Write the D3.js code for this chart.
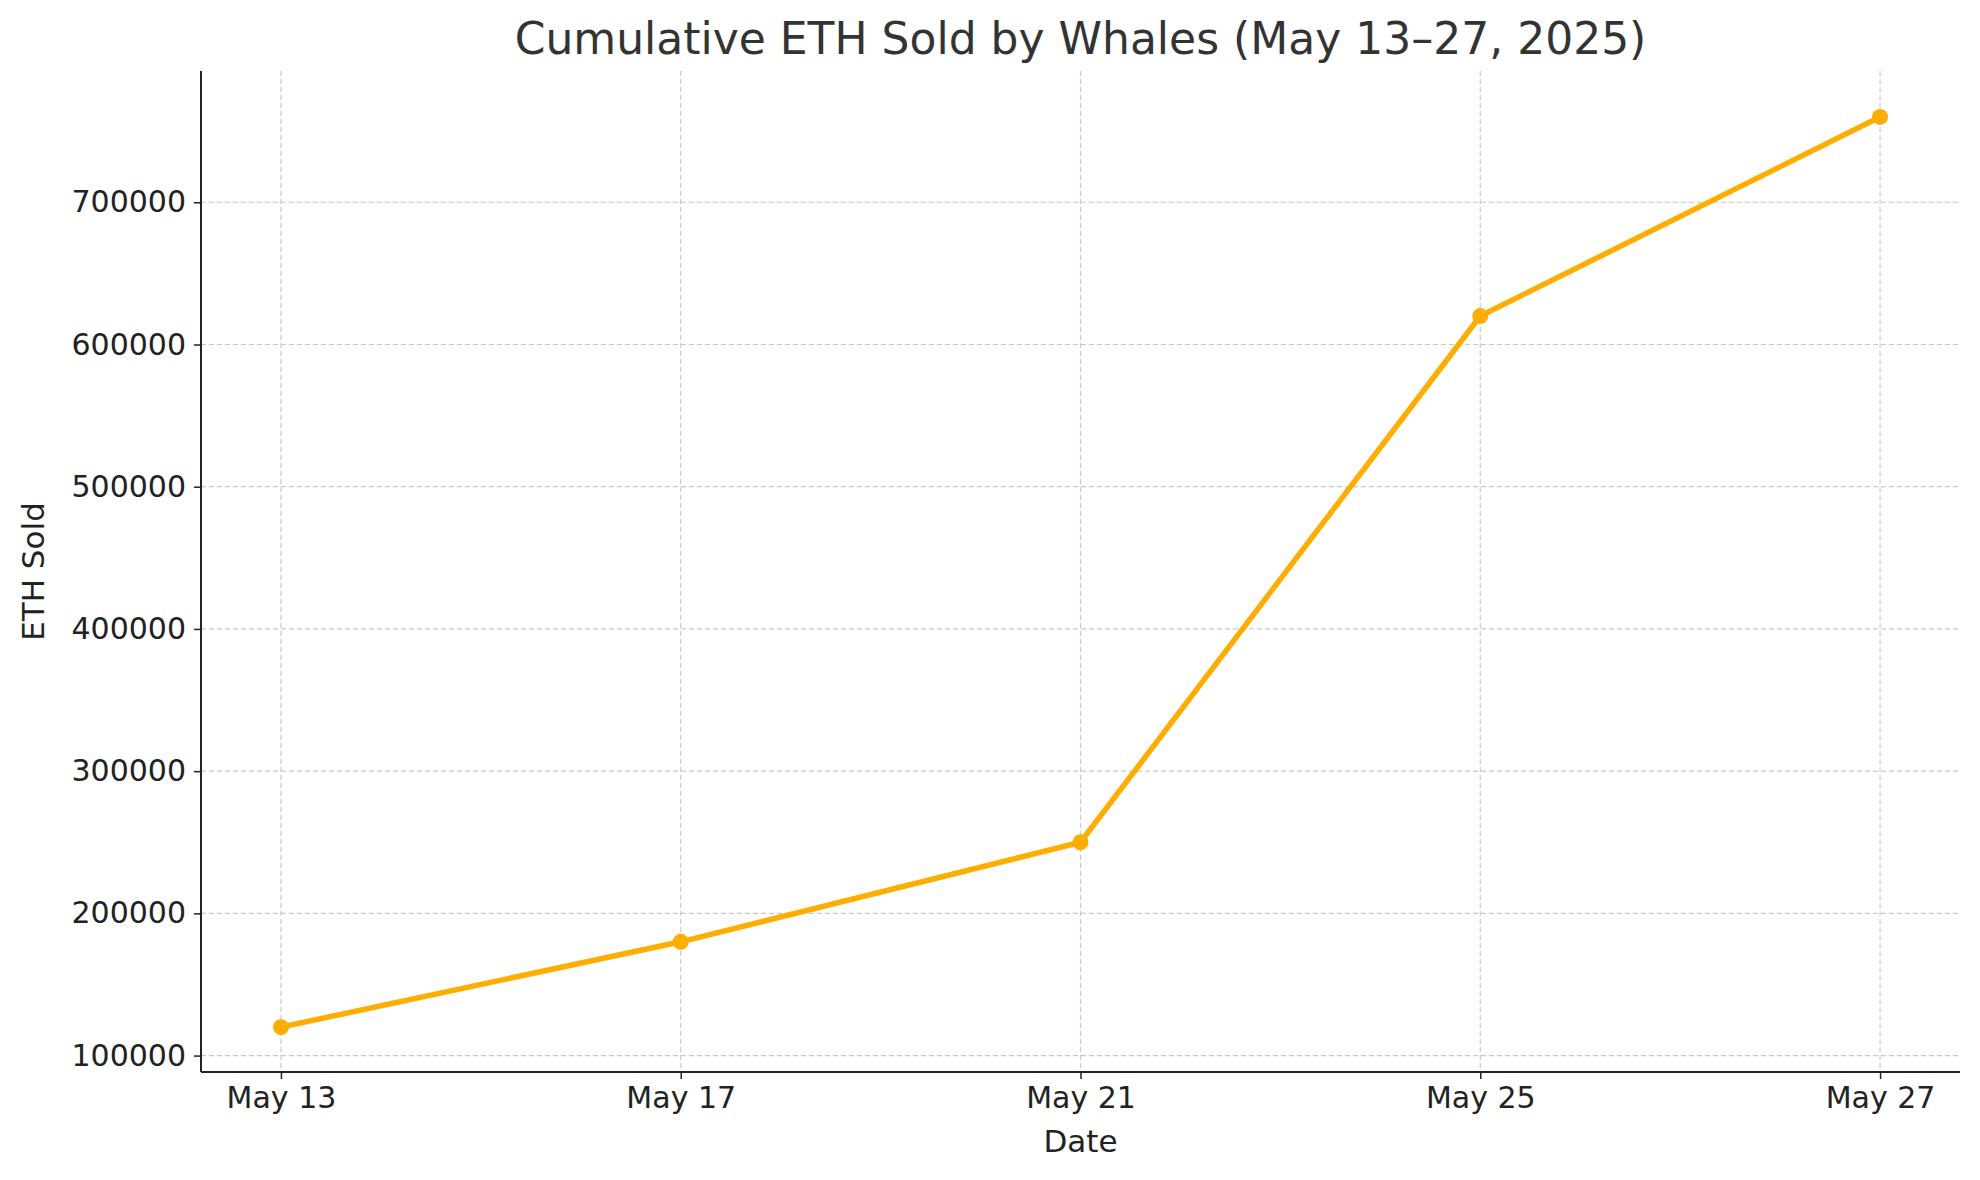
<!DOCTYPE html>
<html><head><meta charset="utf-8">
<script src="https://cdn.jsdelivr.net/npm/d3@7"></script>
<style>body{margin:0;background:#fff}text{font-family:"DejaVu Sans",sans-serif}</style>
</head><body>
<script>
var dates = ["May 13", "May 17", "May 21", "May 25", "May 27"];
var ethSold = [120000, 180000, 250000, 620000, 760000];
var yTicks = [100000, 200000, 300000, 400000, 500000, 600000, 700000];

var width = 1980, height = 1180;
var m = {left: 201, right: 20, top: 71, bottom: 108};

var svg = d3.select("body").append("svg").attr("width", width).attr("height", height);

var x = d3.scalePoint().domain(dates).range([m.left, width - m.right]).padding(0.2);
var y = d3.scaleLinear().domain([88460, 792300]).range([height - m.bottom, m.top]);

// grid
svg.append("g").selectAll("line").data(yTicks).enter().append("line")
    .attr("x1", m.left).attr("x2", width - m.right)
    .attr("y1", function(d){return y(d)}).attr("y2", function(d){return y(d)})
    .style("stroke", "#c8c8c8").style("stroke-dasharray", "5,3").style("stroke-width", 1.2);
svg.append("g").selectAll("line").data(dates).enter().append("line")
    .attr("y1", m.top).attr("y2", height - m.bottom)
    .attr("x1", function(d){return x(d)}).attr("x2", function(d){return x(d)})
    .style("stroke", "#c8c8c8").style("stroke-dasharray", "5,3").style("stroke-width", 1.2);

// axes
var xAxis = svg.append("g").attr("transform", "translate(0," + (height - m.bottom) + ")")
    .call(d3.axisBottom(x).tickSize(7).tickPadding(8));
var yAxis = svg.append("g").attr("transform", "translate(" + m.left + ",0)")
    .call(d3.axisLeft(y).tickValues(yTicks).tickFormat(d3.format("d")).tickSize(7).tickPadding(8));
[xAxis, yAxis].forEach(function(a){
    a.select(".domain").style("stroke", "#222").style("stroke-width", 2);
    a.selectAll(".tick line").style("stroke", "#222").style("stroke-width", 1.5);
    a.selectAll(".tick text").style("font-size", "30px").style("fill", "#222")
     .style("font-family", "DejaVu Sans");
});
xAxis.select(".domain").attr("d", "M" + m.left + ",0H" + (width - m.right));
yAxis.select(".domain").attr("d", "M0," + m.top + "V" + (height - m.bottom));

// line
var pts = dates.map(function(d, i){return {d: d, v: ethSold[i]}});
svg.append("path").datum(pts)
    .attr("d", d3.line().x(function(p){return x(p.d)}).y(function(p){return y(p.v)}))
    .style("fill", "none").style("stroke", "#ffad00").style("stroke-width", 5.5);
svg.append("g").selectAll("circle").data(pts).enter().append("circle")
    .attr("cx", function(p){return x(p.d)}).attr("cy", function(p){return y(p.v)})
    .attr("r", 8).style("fill", "#ffad00");

// labels
svg.append("text").attr("x", (m.left + width - m.right) / 2).attr("y", 54)
    .attr("text-anchor", "middle").style("font-size", "44px").style("fill", "#333")
    .text("Cumulative ETH Sold by Whales (May 13\u201327, 2025)");
svg.append("text").attr("x", (m.left + width - m.right) / 2).attr("y", 1152)
    .attr("text-anchor", "middle").style("font-size", "31px").style("fill", "#222")
    .text("Date");
svg.append("text").attr("transform", "translate(44," + ((m.top + height - m.bottom) / 2) + ") rotate(-90)")
    .attr("text-anchor", "middle").style("font-size", "31px").style("fill", "#222")
    .text("ETH Sold");
</script>
</body></html>
